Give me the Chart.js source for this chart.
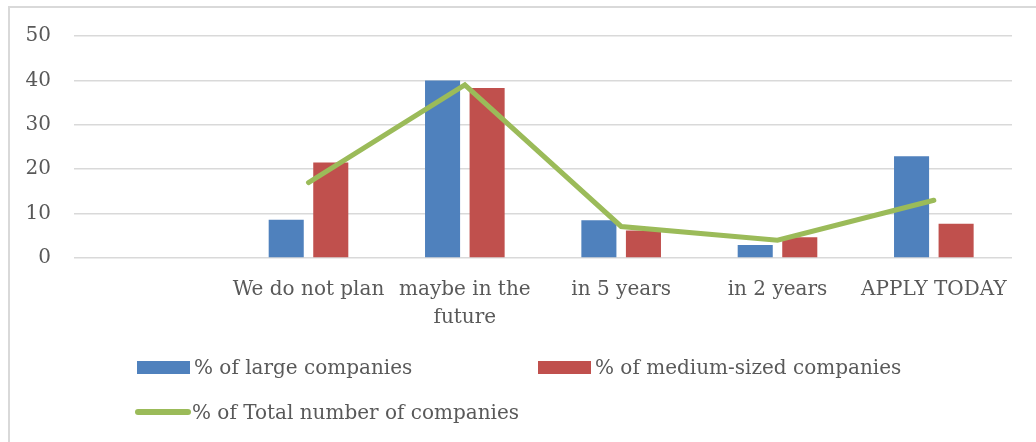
<!DOCTYPE html>
<html>
<head>
<meta charset="utf-8">
<script src="https://cdn.jsdelivr.net/npm/chart.js@4.4.1/dist/chart.umd.min.js"></script>
<style>
  html, body { margin: 0; padding: 0; background: #fff; }
  #wrap { position: relative; width: 1036px; height: 442px; overflow: hidden; }
  #frame { position: absolute; left: 8px; top: 6px; right: -4px; bottom: -4px;
           border-left: 2px solid #d9d9d9; border-top: 2px solid #d9d9d9; }
  #myChart { position: absolute; left: 0; top: 0; }
  .lg { position: absolute; font-family: "DejaVu Serif", serif; font-size: 20px;
        color: #595959; white-space: nowrap; line-height: 24px; }
  .sw { position: absolute; }
</style>
</head>
<body>
<div id="wrap">
  <div id="frame"></div>
  <canvas id="myChart" width="1036" height="442"></canvas>
  <div id="legend"></div>
</div>
<script>
// categories and series
const categories = ['', 'We do not plan', ['maybe in the', 'future'], 'in 5 years', 'in 2 years', 'APPLY TODAY'];
const largeCompanies = [null, 8.6, 40, 8.5, 2.9, 22.9];
const mediumCompanies = [null, 21.5, 38.3, 6.2, 4.7, 7.7];
const totalCompanies = [null, 17, 39, 7.1, 4, 13];
const yTicks = [0, 10, 20, 30, 40, 50];

const textColor = '#595959';
const fontFamily = '"DejaVu Serif", serif';

const ctx = document.getElementById('myChart').getContext('2d');
const myChart = new Chart(ctx, {
    type: 'bar',
    data: {
        labels: categories,
        datasets: [{
            type: 'line',
            label: '% of Total number of companies',
            data: totalCompanies,
            borderColor: '#9bbb59',
            backgroundColor: '#9bbb59',
            borderWidth: 5,
            borderCapStyle: 'round',
            pointRadius: 0,
            tension: 0,
            order: 0
        }, {
            label: '% of large companies',
            data: largeCompanies,
            backgroundColor: '#4f81bd',
            categoryPercentage: 0.57,
            barPercentage: 0.787,
            order: 1
        }, {
            label: '% of medium-sized companies',
            data: mediumCompanies,
            backgroundColor: '#c0504d',
            categoryPercentage: 0.57,
            barPercentage: 0.787,
            order: 1
        }]
    },
    options: {
        responsive: false,
        animation: false,
        layout: {
            padding: { top: 36, right: 24, bottom: 100, left: 0 }
        },
        plugins: {
            legend: { display: false },
            tooltip: { enabled: false }
        },
        scales: {
            x: {
                grid: { display: false },
                border: { display: false },
                ticks: {
                    color: textColor,
                    font: { family: fontFamily, size: 20, lineHeight: 1.4 },
                    padding: 10,
                    maxRotation: 0,
                    autoSkip: false
                }
            },
            y: {
                min: 0,
                max: 50,
                afterFit: function(scale) { scale.width = 74; },
                afterBuildTicks: function(scale) {
                    scale.ticks = yTicks.map(v => ({ value: v }));
                },
                grid: { color: '#d9d9d9', lineWidth: 1.5, drawTicks: false },
                border: { display: false },
                ticks: {
                    color: textColor,
                    font: { family: fontFamily, size: 20 },
                    padding: 23
                }
            }
        }
    }
});

// legend entries, taken from the chart's datasets
function buildLegend(chart) {
    const ds = chart.data.datasets;
    const spots = [
        { i: 1, x: 137, y: 367 },
        { i: 2, x: 538, y: 367 },
        { i: 0, x: 135, y: 412 }
    ];
    const box = document.getElementById('legend');
    spots.forEach(s => {
        const d = ds[s.i];
        const sw = document.createElement('div');
        sw.className = 'sw';
        if (d.type === 'line') {
            sw.style.left = s.x + 'px';
            sw.style.top = (s.y - 3) + 'px';
            sw.style.width = '56px';
            sw.style.height = '6px';
            sw.style.borderRadius = '3px';
        } else {
            sw.style.left = s.x + 'px';
            sw.style.top = (s.y - 6) + 'px';
            sw.style.width = '53px';
            sw.style.height = '13px';
        }
        sw.style.background = d.backgroundColor;
        box.appendChild(sw);
        const t = document.createElement('div');
        t.className = 'lg';
        t.textContent = d.label;
        t.style.left = (s.x + 57) + 'px';
        t.style.top = (s.y - 12) + 'px';
        box.appendChild(t);
    });
}
buildLegend(myChart);
</script>
</body>
</html>
